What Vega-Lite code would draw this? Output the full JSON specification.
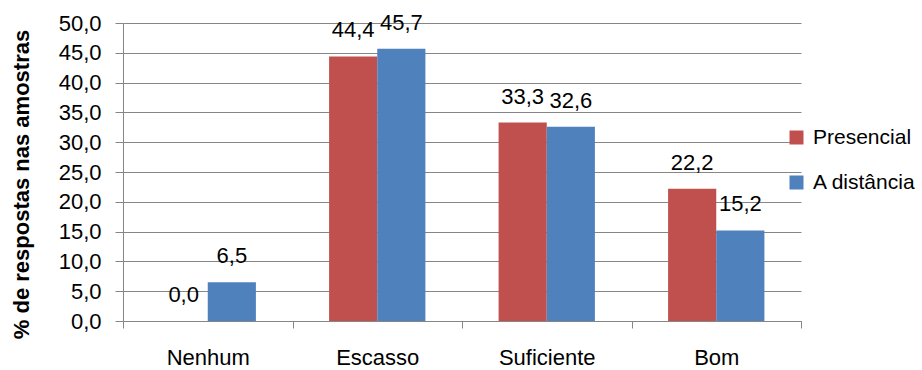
{
  "$schema": "https://vega.github.io/schema/vega-lite/v6.json",
  "autosize": "none",
  "width": 678,
  "height": 298,
  "padding": {"left": 123, "top": 23, "right": 121, "bottom": 49},
  "background": "white",
  "config": {
    "locale": {"number": {"decimal": ",", "thousands": ".", "grouping": [3], "currency": ["", ""]}},
    "view": {"stroke": null},
    "font": "Liberation Sans, sans-serif"
  },
  "data": {
    "values": [
      {"cat": "Nenhum", "serie": "Presencial", "v": 0.0},
      {"cat": "Nenhum", "serie": "A distância", "v": 6.5},
      {"cat": "Escasso", "serie": "Presencial", "v": 44.4},
      {"cat": "Escasso", "serie": "A distância", "v": 45.7},
      {"cat": "Suficiente", "serie": "Presencial", "v": 33.3},
      {"cat": "Suficiente", "serie": "A distância", "v": 32.6},
      {"cat": "Bom", "serie": "Presencial", "v": 22.2},
      {"cat": "Bom", "serie": "A distância", "v": 15.2}
    ]
  },
  "encoding": {
    "x": {
      "field": "cat", "type": "nominal", "sort": ["Nenhum", "Escasso", "Suficiente", "Bom"],
      "scale": {"paddingInner": 0, "paddingOuter": 0},
      "axis": {
        "title": null, "labelAngle": 0, "labelFontSize": 22, "labelColor": "#000000",
        "labelFont": "Liberation Sans, sans-serif",
        "domainColor": "#868686", "tickColor": "#868686", "tickSize": 7, "tickBand": "extent",
        "labelPadding": 19, "grid": false
      }
    },
    "xOffset": {"field": "serie", "type": "nominal", "sort": ["Presencial", "A distância"], "scale": {"paddingInner": 0, "paddingOuter": 0.76}},
    "y": {
      "field": "v", "type": "quantitative",
      "scale": {"domain": [0, 50], "nice": false},
      "axis": {
        "values": [0, 5, 10, 15, 20, 25, 30, 35, 40, 45, 50],
        "format": ".1f",
        "title": "% de respostas nas amostras",
        "titleFont": "Liberation Sans, sans-serif",
        "titleFontSize": 22, "titleFontWeight": "bold", "titleColor": "#000000",
        "titleX": -90, "titleY": 161, "titleAngle": 270, "titleAlign": "center", "titleBaseline": "bottom",
        "labelFontSize": 22, "labelColor": "#000000", "labelPadding": 14,
        "labelFont": "Liberation Sans, sans-serif",
        "domainColor": "#868686", "tickColor": "#868686", "tickSize": 8,
        "gridColor": "#868686", "gridWidth": 1
      }
    }
  },
  "layer": [
    {
      "mark": {"type": "bar"},
      "encoding": {
        "color": {
          "field": "serie", "type": "nominal",
          "scale": {"domain": ["Presencial", "A distância"], "range": ["#C0504D", "#4F81BD"]},
          "legend": {
            "title": null, "orient": "none", "legendX": 663, "legendY": 104,
            "symbolType": "square", "symbolSize": 196, "symbolStrokeWidth": 0,
            "labelFontSize": 21, "labelColor": "#000000", "rowPadding": 23, "labelOffset": 6,
            "labelFont": "Liberation Sans, sans-serif"
          }
        }
      }
    },
    {
      "mark": {"type": "text", "baseline": "bottom", "dy": -14, "fontSize": 22, "color": "#000000", "font": "Liberation Sans, sans-serif"},
      "encoding": {
        "text": {"field": "v", "type": "quantitative", "format": ".1f"}
      }
    }
  ]
}
